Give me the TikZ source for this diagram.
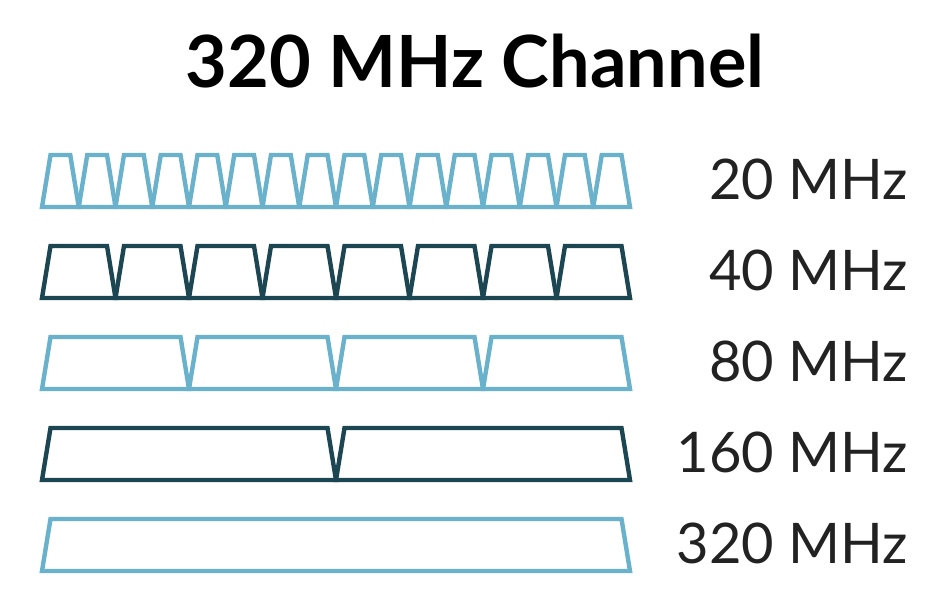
\documentclass[tikz,border=0pt]{standalone}
\usepackage{fontspec}
\setmainfont{Lato}
\usetikzlibrary{positioning}
\definecolor{bandlight}{RGB}{106,178,204}
\definecolor{banddark}{RGB}{28,70,82}
\definecolor{txtgrey}{RGB}{34,34,34}
\tikzset{
  band/.style={line width=4.4pt,line join=miter},
  ltband/.style={band,draw=bandlight},
  dkband/.style={band,draw=banddark},
  lbl/.style={font=\fontsize{56}{60}\selectfont,text=txtgrey,anchor=base east,inner sep=0pt},
  ttl/.style={font=\fontsize{72}{78}\selectfont\bfseries,anchor=base,inner sep=0pt},
}

\begin{document}
\begin{tikzpicture}[x=1pt,y=-1pt]
\useasboundingbox (0,0) rectangle (942,602);

% one row of channels per bandwidth
\foreach \n/\w/\sty [count=\r from 0] in {16/20/ltband,8/40/dkband,4/80/ltband,2/160/dkband,1/320/ltband}{
  \pgfmathsetmacro{\seg}{588/\n}
  \pgfmathsetmacro{\yt}{155+91*\r}
  \foreach \k in {1,...,\n}{
    \pgfmathsetmacro{\xa}{42+(\k-1)*\seg}
    \draw[\sty] ({\xa},{\yt+52}) -- ({\xa+8.5},{\yt}) -- ({\xa+\seg-8.5},{\yt})
      -- ({\xa+\seg},{\yt+52}) -- cycle;
  }
  \node[lbl] (lbl\w) at (908,{\yt+44.5}) {\w\ MHz};
}

\node[ttl] (title) at (475,88) {320 MHz Channel};

\end{tikzpicture}
\end{document}
